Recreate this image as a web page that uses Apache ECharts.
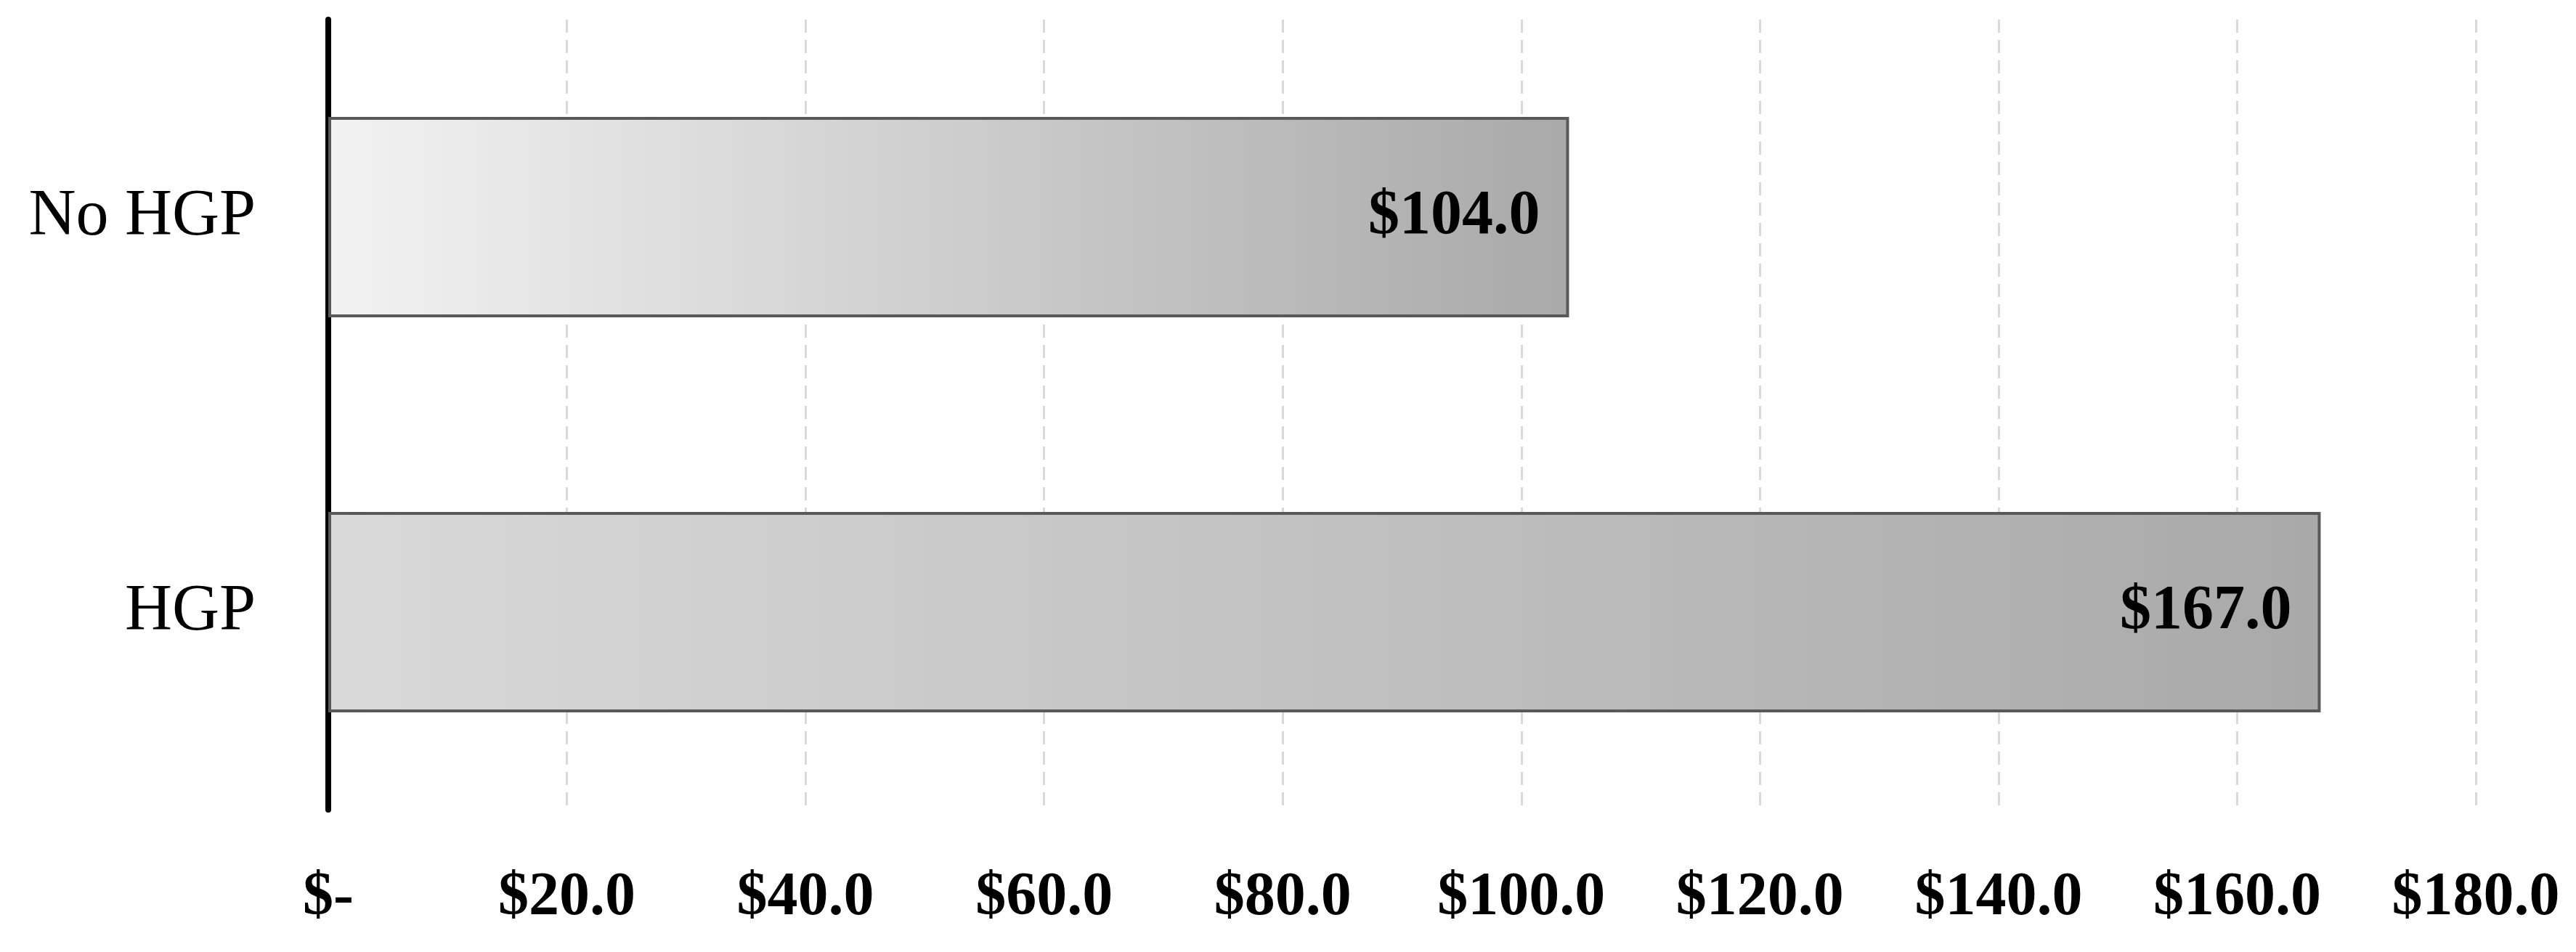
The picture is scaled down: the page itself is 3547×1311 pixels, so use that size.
<!DOCTYPE html>
<head>
    <meta charset="utf-8">
    <title>HGP</title>
    <style>
        html, body { margin: 0; padding: 0; background: #fff; }
        #chart { width: 3547px; height: 1311px; }
    </style>
</head>
<body>
    <div id="chart"></div>
    <script src="https://cdn.jsdelivr.net/npm/echarts@6/dist/echarts.min.js"></script>
    <script>
        var categories = ['HGP', 'No HGP'];
        var values = [167.0, 104.0];
        var gradientStart = ['#d9d9d9', '#f2f2f2'];
        var gradientEnd = ['#a9a9a9', '#a9a9a9'];

        var serif = '"Liberation Serif", "DejaVu Serif", serif';

        var barData = values.map(function (v, i) {
            return {
                value: v,
                itemStyle: {
                    color: new echarts.graphic.LinearGradient(0, 0, 1, 0, [
                        { offset: 0, color: gradientStart[i] },
                        { offset: 1, color: gradientEnd[i] }
                    ])
                }
            };
        });

        var myChart = echarts.init(document.getElementById('chart'));
        var option = {
            animation: false,
            grid: { left: 452, right: 138, top: 27, bottom: 196 },
            xAxis: {
                type: 'value',
                min: 0,
                max: 180,
                interval: 20,
                axisLine: { show: false },
                axisTick: { show: false },
                splitLine: {
                    show: true,
                    lineStyle: { color: '#d9d9d9', width: 3, type: [18, 10] }
                },
                axisLabel: {
                    margin: 80,
                    color: '#000',
                    fontFamily: serif,
                    fontWeight: 'bold',
                    fontSize: 84,
                    formatter: function (v) {
                        return v === 0 ? '$-' : '$' + v.toFixed(1);
                    }
                }
            },
            yAxis: {
                type: 'category',
                data: categories,
                axisLine: { show: true, lineStyle: { color: '#000', width: 8 } },
                axisTick: { show: false },
                axisLabel: {
                    margin: 100,
                    color: '#000',
                    fontFamily: serif,
                    fontSize: 90
                }
            },
            series: [{
                type: 'bar',
                data: barData,
                barWidth: 276,
                itemStyle: { borderColor: '#595959', borderWidth: 4 },
                label: {
                    show: true,
                    position: 'insideRight',
                    distance: 40,
                    color: '#000',
                    fontFamily: serif,
                    fontWeight: 'bold',
                    fontSize: 86,
                    formatter: function (p) { return '$' + p.value.toFixed(1); }
                }
            }]
        };
        myChart.setOption(option);
    </script>
</body>
